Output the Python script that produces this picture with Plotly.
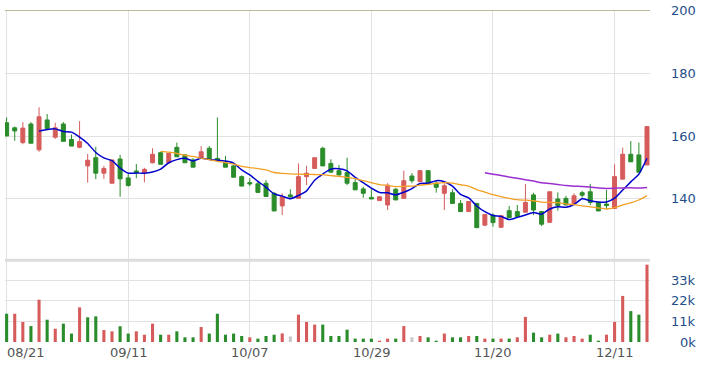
import plotly.graph_objects as go

# ---- data ----
day_index = list(range(80))
opens = [164.2, 162.6, 157.9, 163.8, 155.6, 165.1, 159.6, 163.8, 158.9, 156.4,
         150.5, 153.1, 148.2, 145.0, 152.7, 146.7, 148.9, 148.3, 151.5, 154.7,
         151.5, 156.4, 154.0, 152.4, 152.9, 156.1, 152.9, 151.5, 150.5, 147.1,
         145.2, 144.8, 145.0, 141.8, 137.8, 141.3, 140.2, 147.1, 149.7, 156.1,
         151.3, 149.0, 148.4, 145.2, 143.2, 140.5, 139.5, 138.1, 143.1, 140.2,
         147.3, 145.5, 149.0, 145.0, 141.8, 142.0, 138.6, 136.0, 138.6, 131.7,
         134.9, 131.0, 136.3, 136.0, 135.8, 141.3, 136.0, 132.6, 140.0, 140.2,
         138.6, 142.0, 142.3, 138.9, 138.4, 137.0, 146.3, 154.2, 154.0, 150.8]
highs = [165.9, 163.0, 164.4, 164.4, 169.1, 167.0, 164.2, 164.4, 160.5, 164.7,
         154.3, 156.6, 150.5, 152.4, 154.0, 147.9, 151.1, 149.9, 156.1, 155.0,
         154.7, 157.9, 154.3, 153.0, 156.8, 156.8, 165.9, 153.7, 150.8, 147.5,
         146.6, 145.5, 146.0, 142.2, 141.8, 143.1, 151.3, 150.5, 153.1, 156.6,
         152.6, 150.8, 153.1, 146.6, 143.9, 143.1, 140.9, 145.0, 143.5, 149.0,
         148.2, 149.0, 149.0, 145.8, 145.0, 143.1, 139.7, 139.2, 138.6, 135.1,
         135.4, 134.7, 137.8, 138.1, 144.8, 142.0, 136.0, 142.3, 142.1, 141.0,
         141.8, 142.6, 144.8, 138.9, 142.9, 151.0, 156.3, 158.4, 157.9, 163.0]
lows = [160.0, 158.5, 157.4, 157.7, 155.0, 161.8, 159.1, 158.3, 156.8, 156.1,
        145.2, 146.3, 146.4, 145.0, 140.7, 143.9, 146.6, 145.3, 151.3, 151.0,
        151.3, 153.4, 151.5, 150.1, 152.9, 152.6, 152.4, 150.1, 146.9, 144.1,
        144.1, 142.1, 140.8, 136.2, 134.9, 140.4, 140.0, 144.4, 149.7, 150.5,
        148.5, 147.6, 144.4, 142.9, 140.4, 140.0, 139.5, 136.5, 139.7, 140.2,
        145.0, 145.5, 144.8, 142.0, 136.5, 138.6, 136.0, 136.0, 130.9, 131.4,
        131.2, 131.0, 134.1, 134.4, 135.8, 134.9, 131.4, 132.6, 136.3, 138.1,
        138.6, 140.4, 138.1, 136.2, 136.8, 137.0, 146.3, 151.8, 148.5, 150.8]
closes = [160.0, 161.6, 162.5, 157.7, 166.1, 162.4, 162.6, 158.3, 156.8, 158.2,
          152.3, 148.2, 149.7, 152.4, 146.4, 144.3, 148.4, 149.4, 154.2, 151.0,
          154.5, 153.4, 151.5, 150.1, 155.0, 152.6, 152.4, 150.1, 146.9, 144.1,
          144.8, 142.1, 140.8, 136.2, 140.7, 140.7, 147.1, 148.2, 153.1, 150.5,
          148.5, 147.6, 145.0, 142.9, 141.8, 140.0, 140.7, 144.4, 139.7, 145.8,
          145.8, 149.0, 144.8, 143.7, 144.2, 138.6, 136.0, 139.2, 130.9, 135.1,
          132.5, 134.7, 134.1, 134.4, 138.9, 136.5, 132.0, 142.3, 137.9, 138.1,
          141.0, 141.2, 138.9, 136.2, 137.9, 147.1, 154.2, 151.8, 148.5, 163.0]
volumes_k = [15.1, 15.1, 10.7, 8.5, 22.6, 11.9, 7.1, 9.8, 4.5, 18.5,
             13.2, 13.7, 6.4, 5.7, 8.4, 4.5, 5.7, 3.9, 9.8, 3.9,
             3.9, 5.7, 2.5, 2.5, 8.0, 4.5, 15.1, 3.9, 4.5, 3.2,
             2.5, 1.8, 3.2, 3.9, 4.6, 3.0, 14.6, 10.7, 9.3, 9.3,
             3.2, 3.2, 6.6, 1.8, 1.8, 1.8, 0.7, 1.8, 1.8, 8.5,
             2.5, 3.2, 2.5, 0.7, 4.5, 2.5, 2.5, 3.2, 3.2, 1.8,
             1.8, 1.8, 1.8, 2.5, 13.4, 5.0, 2.5, 3.9, 4.5, 2.5,
             3.2, 1.8, 3.9, 0.7, 3.9, 10.7, 24.6, 16.5, 14.6, 41.3]
ma5 = [161.58, 162.06, 162.26, 161.42, 161.24, 159.66, 157.64, 154.76, 153.04, 152.16,
       149.80, 148.20, 148.24, 148.18, 148.54, 149.46, 151.50, 152.50, 152.92, 152.10,
       152.90, 152.52, 152.32, 152.04, 151.40, 149.22, 147.66, 145.60, 143.74, 141.60,
       140.92, 140.10, 141.10, 142.58, 145.96, 147.92, 149.48, 149.58, 148.94, 146.90,
       145.16, 143.46, 142.08, 141.96, 141.32, 142.12, 143.28, 144.94, 145.02, 145.82,
       145.50, 144.06, 141.46, 140.34, 137.78, 135.96, 134.74, 134.48, 133.46, 134.16,
       134.92, 135.72, 135.18, 136.82, 137.52, 137.36, 138.26, 140.10, 139.42, 139.08,
       139.04, 140.26, 142.86, 145.44, 147.90, 152.92]
ma20 = [155.13, 154.85, 154.44, 153.89, 153.51, 152.96, 152.47, 151.96, 151.55, 151.05,
        150.35, 149.97, 149.67, 149.22, 148.41, 148.13, 147.95, 147.88, 147.82, 147.77,
        147.74, 147.44, 147.15, 146.83, 146.47, 145.81, 145.18, 144.59, 144.31, 143.95,
        144.03, 144.08, 144.43, 144.63, 145.00, 145.18, 145.07, 144.52, 144.07, 142.96,
        142.19, 141.39, 140.74, 140.20, 139.77, 139.63, 139.45, 139.02, 138.91, 138.82,
        138.44, 138.20, 137.81, 137.51, 137.14, 136.82, 137.25, 138.16, 138.79, 139.67,
        141.06]
ma60 = [148.35, 147.89, 147.44, 146.97, 146.58, 146.13, 145.70, 145.19, 144.92, 144.61,
        144.27, 144.08, 143.97, 143.79, 143.52, 143.37, 143.42, 143.52, 143.56, 143.46,
        143.66]
date_tick_index = [0, 15, 30, 45, 60, 75]
date_tick_text = ["08/21", "09/11", "10/07", "10/29", "11/20", "12/11"]
price_ticks = [200, 180, 160, 140]
volume_ticks = [0, 11000, 22000, 33000]
volume_tick_text = ["0k", "11k", "22k", "33k"]

# ---- styling ----
RED = "#d65c5c"
GREEN = "#2a8c2a"
GREY = "#c8c8c8"
FONT = "DejaVu Sans"

vol_colors = [GREEN]
for i in range(1, len(closes)):
    if closes[i] > closes[i - 1]:
        vol_colors.append(RED)
    elif closes[i] < closes[i - 1]:
        vol_colors.append(GREEN)
    else:
        vol_colors.append(GREY)

fig = go.Figure()
fig.add_trace(go.Candlestick(
    x=day_index, open=opens, high=highs, low=lows, close=closes,
    increasing=dict(line=dict(color=RED, width=1), fillcolor=RED),
    decreasing=dict(line=dict(color=GREEN, width=1), fillcolor=GREEN),
    whiskerwidth=0, hoverinfo="skip", xaxis="x", yaxis="y"))
fig.add_trace(go.Scatter(x=day_index[4:], y=ma5, mode="lines",
                         line=dict(color="#0000cc", width=1.5, shape="spline", smoothing=0.6),
                         xaxis="x", yaxis="y", hoverinfo="skip"))
fig.add_trace(go.Scatter(x=day_index[19:], y=ma20, mode="lines",
                         line=dict(color="#f2a024", width=1.3, shape="spline", smoothing=0.6),
                         xaxis="x", yaxis="y", hoverinfo="skip"))
fig.add_trace(go.Scatter(x=day_index[59:], y=ma60, mode="lines",
                         line=dict(color="#9a2fd0", width=1.5, shape="spline", smoothing=0.6),
                         xaxis="x", yaxis="y", hoverinfo="skip"))
fig.add_trace(go.Bar(x=day_index, y=[v * 1000 for v in volumes_k], marker=dict(color=vol_colors, line=dict(width=0)),
                     width=0.38, xaxis="x2", yaxis="y2", hoverinfo="skip"))

xr = [-0.2, 79.37]
grid = "#e2e2e2"
fig.update_layout(
    width=710, height=369,
    margin=dict(l=5, r=60, t=10, b=27, autoexpand=False),
    paper_bgcolor="white", plot_bgcolor="white",
    showlegend=False,
    font=dict(family=FONT, size=13),
    xaxis=dict(domain=[0, 1], range=xr, anchor="y", tickvals=date_tick_index,
               showticklabels=False, showgrid=True, gridcolor=grid, gridwidth=1,
               zeroline=False, showline=False, ticks="", rangeslider=dict(visible=False)),
    xaxis2=dict(domain=[0, 1], range=xr, anchor="y2", matches="x", tickvals=date_tick_index,
                showticklabels=False, showgrid=True, gridcolor=grid, gridwidth=1,
                zeroline=False, showline=False, ticks=""),
    yaxis=dict(domain=[0.25, 1], range=[120.95, 200], tickvals=price_ticks[1:],
               showticklabels=False, showgrid=True, gridcolor=grid, zeroline=False, ticks=""),
    yaxis2=dict(domain=[0, 0.244], range=[0, 43250], tickvals=volume_ticks,
                showticklabels=False, showgrid=True, gridcolor=grid, zeroline=False, ticks=""),
    shapes=[
        dict(type="line", xref="paper", yref="y", x0=0, x1=1, y0=200, y1=200,
             line=dict(color="#a8a276", width=1.5)),
        dict(type="rect", xref="paper", yref="paper", x0=0, x1=1, y0=0.2415, y1=0.2505,
             fillcolor="#dddddd", line=dict(width=0), layer="above"),
    ],
)

annotations = []
for idx, txt in zip(date_tick_index, date_tick_text):
    if idx == 0:
        annotations.append(dict(x=0, xref="paper", y=-0.033, yref="paper", text=txt,
                                showarrow=False, xanchor="left", yanchor="middle",
                                font=dict(family=FONT, size=13, color="#555555")))
    else:
        annotations.append(dict(x=idx, xref="x2", y=-0.033, yref="paper", text=txt,
                                showarrow=False, xanchor="center", yanchor="middle",
                                font=dict(family=FONT, size=13, color="#555555")))
right_x = (698 - 5) / 645
for p in price_ticks:
    annotations.append(dict(x=right_x, xref="paper", y=p, yref="y", text=str(p),
                            showarrow=False, xanchor="right", yanchor="middle",
                            font=dict(family=FONT, size=13, color="#1f4f8a")))
for v, t in zip(volume_ticks, volume_tick_text):
    annotations.append(dict(x=right_x, xref="paper", y=v, yref="y2", text=t,
                            showarrow=False, xanchor="right", yanchor="middle",
                            font=dict(family=FONT, size=13, color="#1f4f8a")))
fig.update_layout(annotations=annotations)

fig.write_html("out.html", config={"displayModeBar": False},
               post_script="document.body.style.margin='0';document.body.style.padding='0';")
